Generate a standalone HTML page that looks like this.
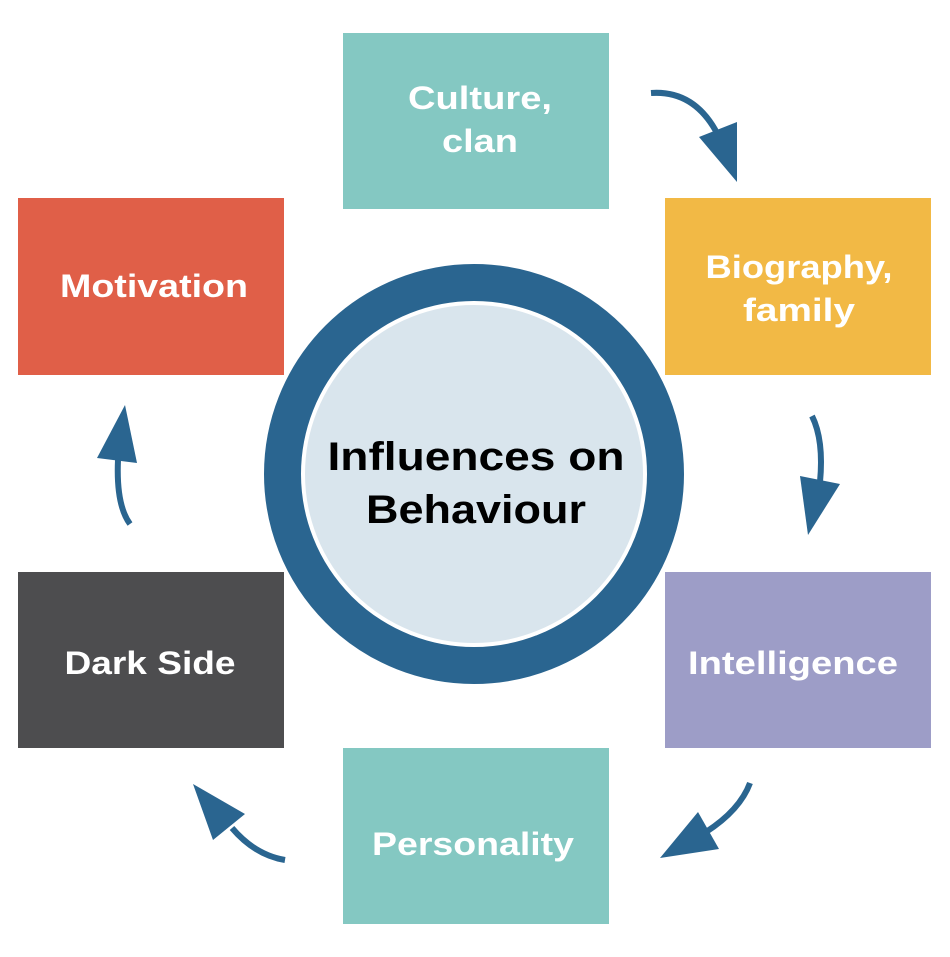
<!DOCTYPE html>
<html><head><meta charset="utf-8"><style>html,body{margin:0;padding:0;background:#fff}svg{display:block}</style></head>
<body>
<svg width="950" height="957" viewBox="0 0 950 957" xmlns="http://www.w3.org/2000/svg" font-family="Liberation Sans, sans-serif" font-weight="bold">
<rect x="343" y="33" width="266" height="176" fill="#84c8c2"/>
<rect x="665" y="198" width="266" height="177" fill="#f2b945"/>
<rect x="18" y="198" width="266" height="177" fill="#e05f48"/>
<rect x="18" y="572" width="266" height="176" fill="#4d4d4f"/>
<rect x="665" y="572" width="266" height="176" fill="#9d9dc7"/>
<rect x="343" y="748" width="266" height="176" fill="#84c8c2"/>
<circle cx="474" cy="474" r="191" fill="none" stroke="#2a6590" stroke-width="38"/>
<circle cx="474" cy="474" r="171" fill="#d9e5ed" stroke="#fff" stroke-width="4"/>
<g fill="#000" font-size="40" text-anchor="middle">
<text x="476" y="470" textLength="297" lengthAdjust="spacingAndGlyphs">Influences on</text>
<text x="476" y="523" textLength="220" lengthAdjust="spacingAndGlyphs">Behaviour</text>
</g>
<g fill="#fff" font-size="32" text-anchor="middle">
<text x="480" y="109" textLength="144" lengthAdjust="spacingAndGlyphs">Culture,</text>
<text x="480" y="152" textLength="76" lengthAdjust="spacingAndGlyphs">clan</text>
<text x="799" y="278" textLength="187" lengthAdjust="spacingAndGlyphs">Biography,</text>
<text x="799" y="321" textLength="112" lengthAdjust="spacingAndGlyphs">family</text>
<text x="154" y="297" textLength="188" lengthAdjust="spacingAndGlyphs">Motivation</text>
<text x="150" y="674" textLength="171" lengthAdjust="spacingAndGlyphs">Dark Side</text>
<text x="793" y="674" textLength="210" lengthAdjust="spacingAndGlyphs">Intelligence</text>
<text x="473" y="855" textLength="202" lengthAdjust="spacingAndGlyphs">Personality</text>
</g>
<g stroke="#2a6590" stroke-width="6" fill="none">
<path d="M651 93 Q695 90 718 135"/>
<path d="M812 416 Q824 440 820 482"/>
<path d="M750 783 Q740 810 706 832"/>
<path d="M285 860 Q255 855 232 828"/>
<path d="M130 524 Q116 505 118 460"/>
</g>
<g fill="#2a6590">
<polygon points="699,137 737,122 737,182"/>
<polygon points="800,476 840,484 808,535"/>
<polygon points="698,812 719,849 660,858"/>
<polygon points="193,784 213,840 245,814"/>
<polygon points="125,405 97,458 137,463"/>
</g>
</svg>
</body></html>
